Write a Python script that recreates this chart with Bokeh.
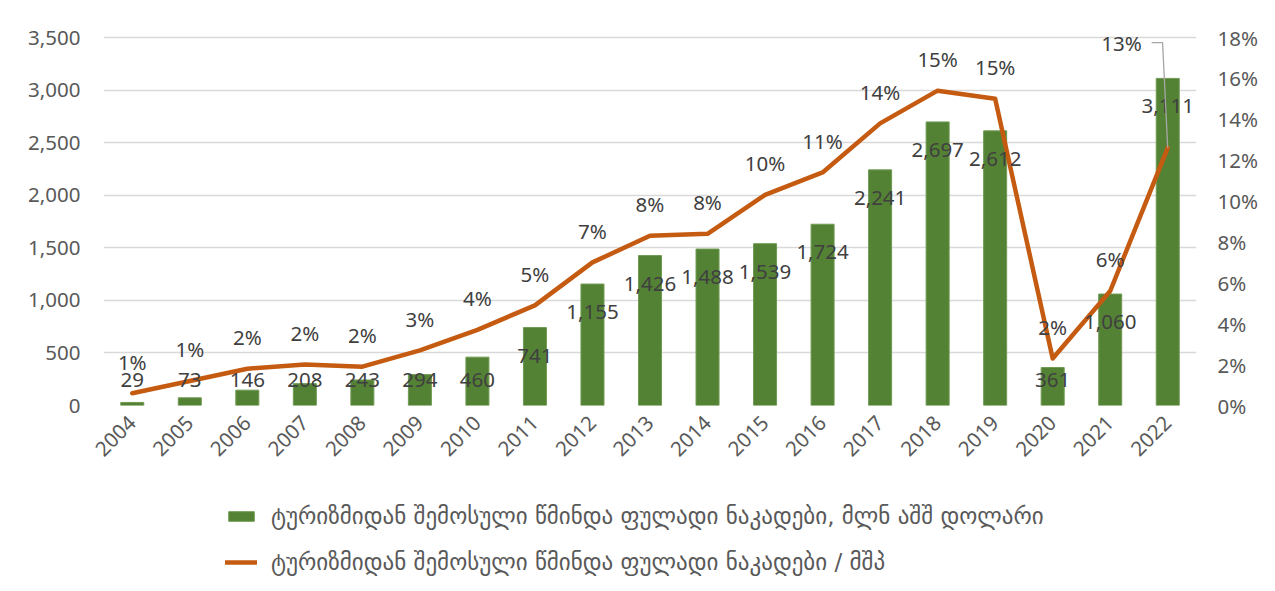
import numpy as np
from bokeh.plotting import figure
from bokeh.layouts import column
from bokeh.models import (ColumnDataSource, Range1d, LinearAxis, FixedTicker,
                          NumeralTickFormatter, PrintfTickFormatter, Legend, LegendItem)
from bokeh.core.properties import value
from bokeh.embed import file_html
from bokeh.resources import INLINE

# ---------------- data ----------------
years = [str(y) for y in range(2004, 2023)]
inflows = [29, 73, 146, 208, 243, 294, 460, 741, 1155, 1426, 1488, 1539,
           1724, 2241, 2697, 2612, 361, 1060, 3111]
share_pct = [0.6, 1.2, 1.8, 2.0, 1.9, 2.7, 3.7, 4.9, 7.0, 8.3, 8.4, 10.3,
             11.4, 13.8, 15.4, 15.0, 2.3, 5.6, 12.6]
left_ticks = [0, 500, 1000, 1500, 2000, 2500, 3000, 3500]
right_ticks = [0, 2, 4, 6, 8, 10, 12, 14, 16, 18]
bar_label = "ტურიზმიდან შემოსული წმინდა ფულადი ნაკადები, მლნ აშშ დოლარი"
line_label = "ტურიზმიდან შემოსული წმინდა ფულადი ნაკადები / მშპ"

# ---------------- style ----------------
GREEN = "#548235"
BAR_EDGE = "#6f9a52"
ORANGE = "#C55A11"
TXT = "#404040"
AX = "#595959"
FONT = "Noto Sans"
GEO_FONT = "DejaVu Sans"
FS = "20.5px"
W = 1267
AXIS_PX = 368      # pixel height of the 0..max tick span
HEAD_PX = 20       # extra room above the top tick (for the 13% label)

n = len(years)
x = np.arange(n)
ymax = left_ticks[-1]
pmax = right_ticks[-1]
scale = (AXIS_PX + HEAD_PX) / AXIS_PX

p = figure(width=W, height=465, output_backend="svg", toolbar_location=None,
           x_range=Range1d(-0.5, n - 0.5), y_range=Range1d(0, ymax * scale),
           min_border_left=103, min_border_right=71, min_border_top=37 - HEAD_PX,
           min_border_bottom=60)
p.extra_y_ranges = {"pct": Range1d(0, pmax * scale)}
p.outline_line_color = None
p.background_fill_color = "white"
p.border_fill_color = "white"

# bars
src = ColumnDataSource(dict(x=x, v=inflows, year=years,
                            lab=[f"{v:,}" for v in inflows],
                            ly=[max(v - 266, 238) for v in inflows]))
bars = p.vbar(x="x", top="v", width=0.4, source=src, fill_color=GREEN,
              line_color=BAR_EDGE, line_width=1)

# line
lsrc = ColumnDataSource(dict(x=x, pct=share_pct,
                             lab=[f"{round(v)}%" for v in share_pct],
                             ly=[v + 1.55 for v in share_pct]))
line = p.line("x", "pct", source=lsrc, y_range_name="pct", line_color=ORANGE,
              line_width=4.5, line_join="round", line_cap="round")

# bar value labels
p.text("x", "ly", text="lab", source=src, text_align="center",
       text_baseline="middle", text_font=value(FONT), text_font_size=FS,
       text_color=TXT)

# pct labels (all but last)
sub = ColumnDataSource(dict(x=x[:-1], ly=lsrc.data["ly"][:-1], lab=lsrc.data["lab"][:-1]))
p.text("x", "ly", text="lab", source=sub, y_range_name="pct", text_align="center",
       text_baseline="middle", text_font=value(FONT), text_font_size=FS,
       text_color=TXT)
# last pct label with leader line
lx = x[-1]
lp = share_pct[-1]
top_y = pmax - 0.25
p.text([lx - 0.45], [top_y], text=[lsrc.data["lab"][-1]], y_range_name="pct",
       text_align="right", text_baseline="middle", text_font=value(FONT),
       text_font_size=FS, text_color=TXT)
p.line([lx - 0.28, lx - 0.09, lx], [top_y, top_y, lp], y_range_name="pct",
       line_color="#A6A6A6", line_width=1.3)

# axes
p.yaxis.ticker = FixedTicker(ticks=left_ticks)
p.yaxis.formatter = NumeralTickFormatter(format="0,0")
right = LinearAxis(y_range_name="pct", ticker=FixedTicker(ticks=right_ticks),
                   formatter=PrintfTickFormatter(format="%d%%"))
p.add_layout(right, "right")

p.xaxis.ticker = FixedTicker(ticks=[int(i) for i in x])
p.xaxis.major_label_overrides = {int(i): y for i, y in zip(x, years)}
p.xaxis.major_label_orientation = np.pi / 4

for ax in [p.xaxis[0], p.yaxis[0], right]:
    ax.axis_line_color = None
    ax.major_tick_line_color = None
    ax.minor_tick_line_color = None
    ax.major_label_text_font = FONT
    ax.major_label_text_font_size = FS
    ax.major_label_text_color = AX
p.yaxis[0].major_label_standoff = 17
right.major_label_standoff = 15
p.xaxis[0].major_label_standoff = 8

p.xgrid.grid_line_color = None
p.ygrid.ticker = FixedTicker(ticks=left_ticks)
p.ygrid.grid_line_color = "#D9D9D9"
p.ygrid.grid_line_width = 1.5

# ---------------- legend strip ----------------
# proxy renderers (same data, hidden) that only supply the legend swatches
q = figure(width=W, height=118, output_backend="svg", toolbar_location=None,
           x_range=Range1d(-0.5, n - 0.5), y_range=Range1d(-2, -1),
           x_axis_location=None, y_axis_location=None, min_border=0)
q.outline_line_color = None
q.xgrid.visible = False
q.ygrid.visible = False
lbar = q.vbar(x="x", top="v", source=src, width=0.4, fill_color=GREEN,
              line_color=BAR_EDGE, visible=False)
lline = q.line("x", "pct", source=lsrc, line_color=ORANGE, line_width=4.5,
               line_cap="round", visible=False)

legend = Legend(items=[LegendItem(label=bar_label, renderers=[lbar]),
                       LegendItem(label=line_label, renderers=[lline])],
                orientation="vertical", location=(122, 6),
                label_text_font=GEO_FONT, label_text_font_size="23px",
                label_text_color=AX, glyph_width=32, glyph_height=12,
                label_standoff=14, spacing=16, label_height=30,
                border_line_color=None, background_fill_alpha=0,
                padding=0, margin=0)
q.add_layout(legend, "center")

layout = column(p, q, spacing=0)
open("out.html", "w").write(file_html(layout, INLINE))
